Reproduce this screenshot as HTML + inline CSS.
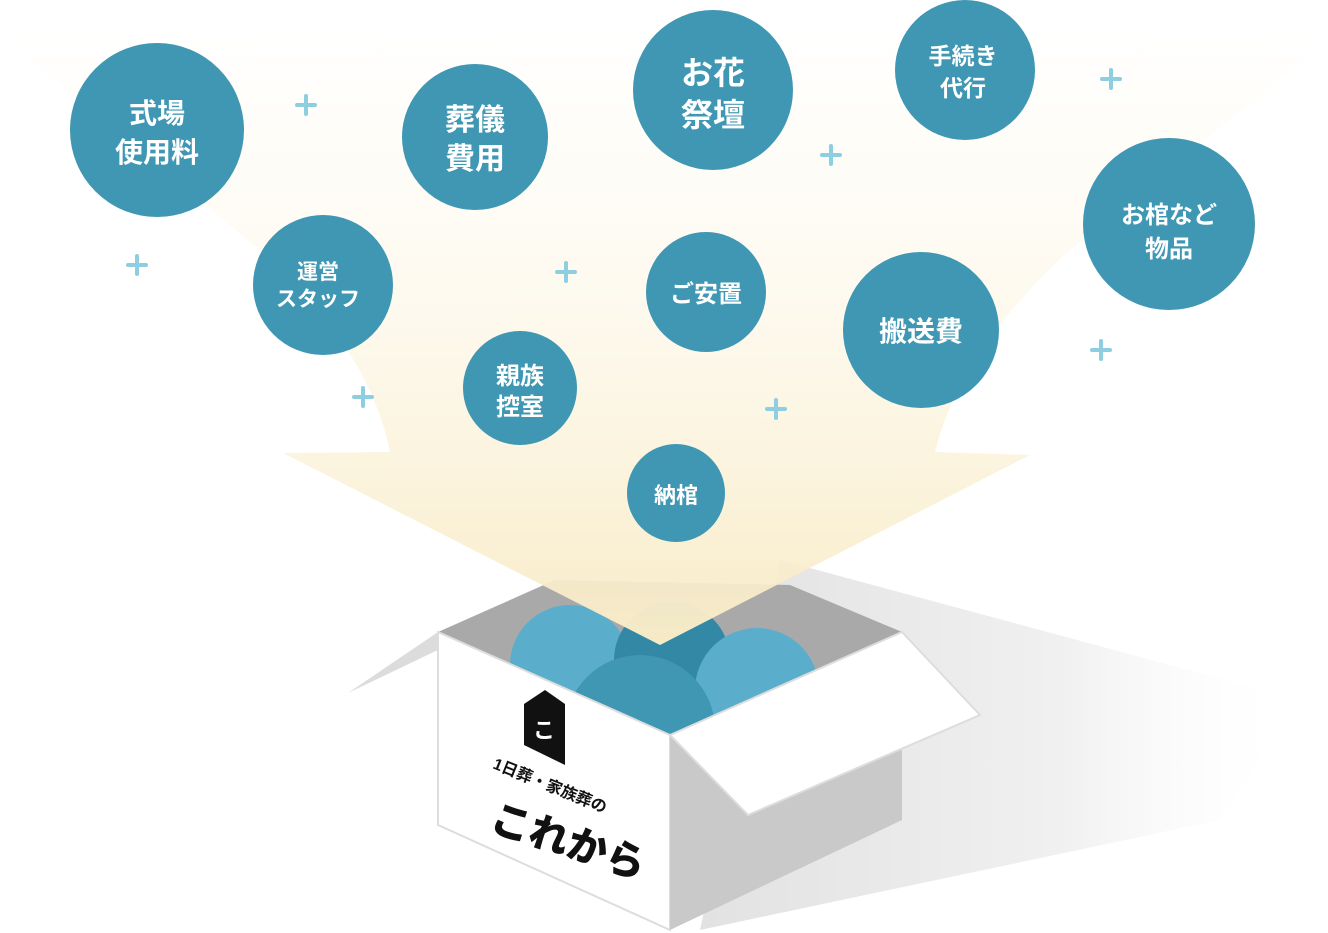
<!DOCTYPE html>
<html><head><meta charset="utf-8"><style>
html,body{margin:0;padding:0;background:#fff;width:1328px;height:933px;overflow:hidden}
svg text{font-family:"Liberation Sans","Noto Sans CJK JP",sans-serif;font-weight:bold;fill:#fff;text-anchor:middle}
</style></head><body>
<svg width="1328" height="933" viewBox="0 0 1328 933" xmlns="http://www.w3.org/2000/svg">
<defs>
<linearGradient id="fy" x1="0" y1="0" x2="0" y2="1">
<stop offset="0" stop-color="#fdf6e2" stop-opacity="0"/>
<stop offset="0.3" stop-color="#fdf8ea" stop-opacity="0.5"/>
<stop offset="1" stop-color="#f8ebc6"/>
</linearGradient>
<linearGradient id="sh" x1="0" y1="0" x2="1" y2="0">
<stop offset="0" stop-color="#e2e2e2"/>
<stop offset="0.6" stop-color="#f0f0f0"/>
<stop offset="1" stop-color="#ffffff" stop-opacity="0"/>
</linearGradient>
</defs>
<!-- shadow -->
<polygon points="780,560 1300,700 1220,820 700,930" fill="url(#sh)"/>
<!-- box interior -->
<polygon points="438,632 555,580 790,585 902,632 670,735" fill="#a9a9a9"/>
<polygon points="348,693 438,632 442,648" fill="#dcdcdc"/>
<!-- balls -->
<circle cx="570" cy="665" r="60" fill="#5aaecb"/>
<circle cx="672" cy="660" r="58" fill="#3388a6"/>
<circle cx="757" cy="690" r="62" fill="#5aaecb"/>
<circle cx="640" cy="730" r="75" fill="#3f97b3"/>
<!-- box faces -->
<polygon points="438,632 670,735 670,930 438,825" fill="#fff" stroke="#ddd" stroke-width="2"/>
<polygon points="670,735 902,632 902,820 670,930" fill="#c9c9c9"/>
<polygon points="670,735 902,632 980,715 748,815" fill="#fff" stroke="#ddd" stroke-width="2"/>
<!-- funnel -->
<path d="M0,35 L260,250 Q370,350 390,452 L283,453 L660,645 L1030,455 L935,452 Q960,350 1070,250 L1328,40 Z" fill="url(#fy)"/>
<!-- logo -->
<polygon points="524,704 545,690 565,704 565,765 524,745" fill="#111"/>
<text x="544" y="738" style="font-size:22px" fill="#fff">こ</text>
<g transform="translate(492,768) rotate(22)">
<text x="0" y="0" style="font-size:16px;fill:#111;text-anchor:start">1日葬・家族葬の</text>
</g>
<g transform="translate(488,830) rotate(18)">
<text x="0" y="0" style="font-size:40px;fill:#111;text-anchor:start;font-weight:900">これから</text>
</g>
<!-- pluses -->
<g stroke="#8dcfe1" stroke-width="4" stroke-linecap="round">
<path d="M297,105h18M306,96v18"/><path d="M128,265h18M137,256v18"/><path d="M354,397h18M363,388v18"/>
<path d="M557,272h18M566,263v18"/><path d="M822,155h18M831,146v18"/><path d="M767,409h18M776,400v18"/>
<path d="M1102,79h18M1111,70v18"/><path d="M1092,350h18M1101,341v18"/>
</g>
<!-- circles -->
<g fill="#3f97b3">
<circle cx="157" cy="130" r="87"/><circle cx="323" cy="285" r="70"/><circle cx="475" cy="137" r="73"/>
<circle cx="520" cy="388" r="57"/><circle cx="713" cy="90" r="80"/><circle cx="706" cy="292" r="60"/>
<circle cx="676" cy="493" r="49"/><circle cx="965" cy="70" r="70"/><circle cx="921" cy="330" r="78"/>
<circle cx="1169" cy="224" r="86"/>
</g>
<text x="157" y="123" style="font-size:28px">式場</text><text x="157" y="162" style="font-size:28px">使用料</text>
<text x="318" y="279" style="font-size:21px">運営</text><text x="318" y="306" style="font-size:21px">スタッフ</text>
<text x="475" y="130" style="font-size:30px">葬儀</text><text x="475" y="169" style="font-size:30px">費用</text>
<text x="520" y="384" style="font-size:24px">親族</text><text x="520" y="415" style="font-size:24px">控室</text>
<text x="713" y="84" style="font-size:32px">お花</text><text x="713" y="126" style="font-size:32px">祭壇</text>
<text x="706" y="302" style="font-size:24px">ご安置</text>
<text x="676" y="503" style="font-size:22px">納棺</text>
<text x="963" y="64" style="font-size:23px">手続き</text><text x="963" y="96" style="font-size:23px">代行</text>
<text x="921" y="341" style="font-size:28px">搬送費</text>
<text x="1169" y="223" style="font-size:24px">お棺など</text><text x="1169" y="257" style="font-size:24px">物品</text>
</svg>
</body></html>
